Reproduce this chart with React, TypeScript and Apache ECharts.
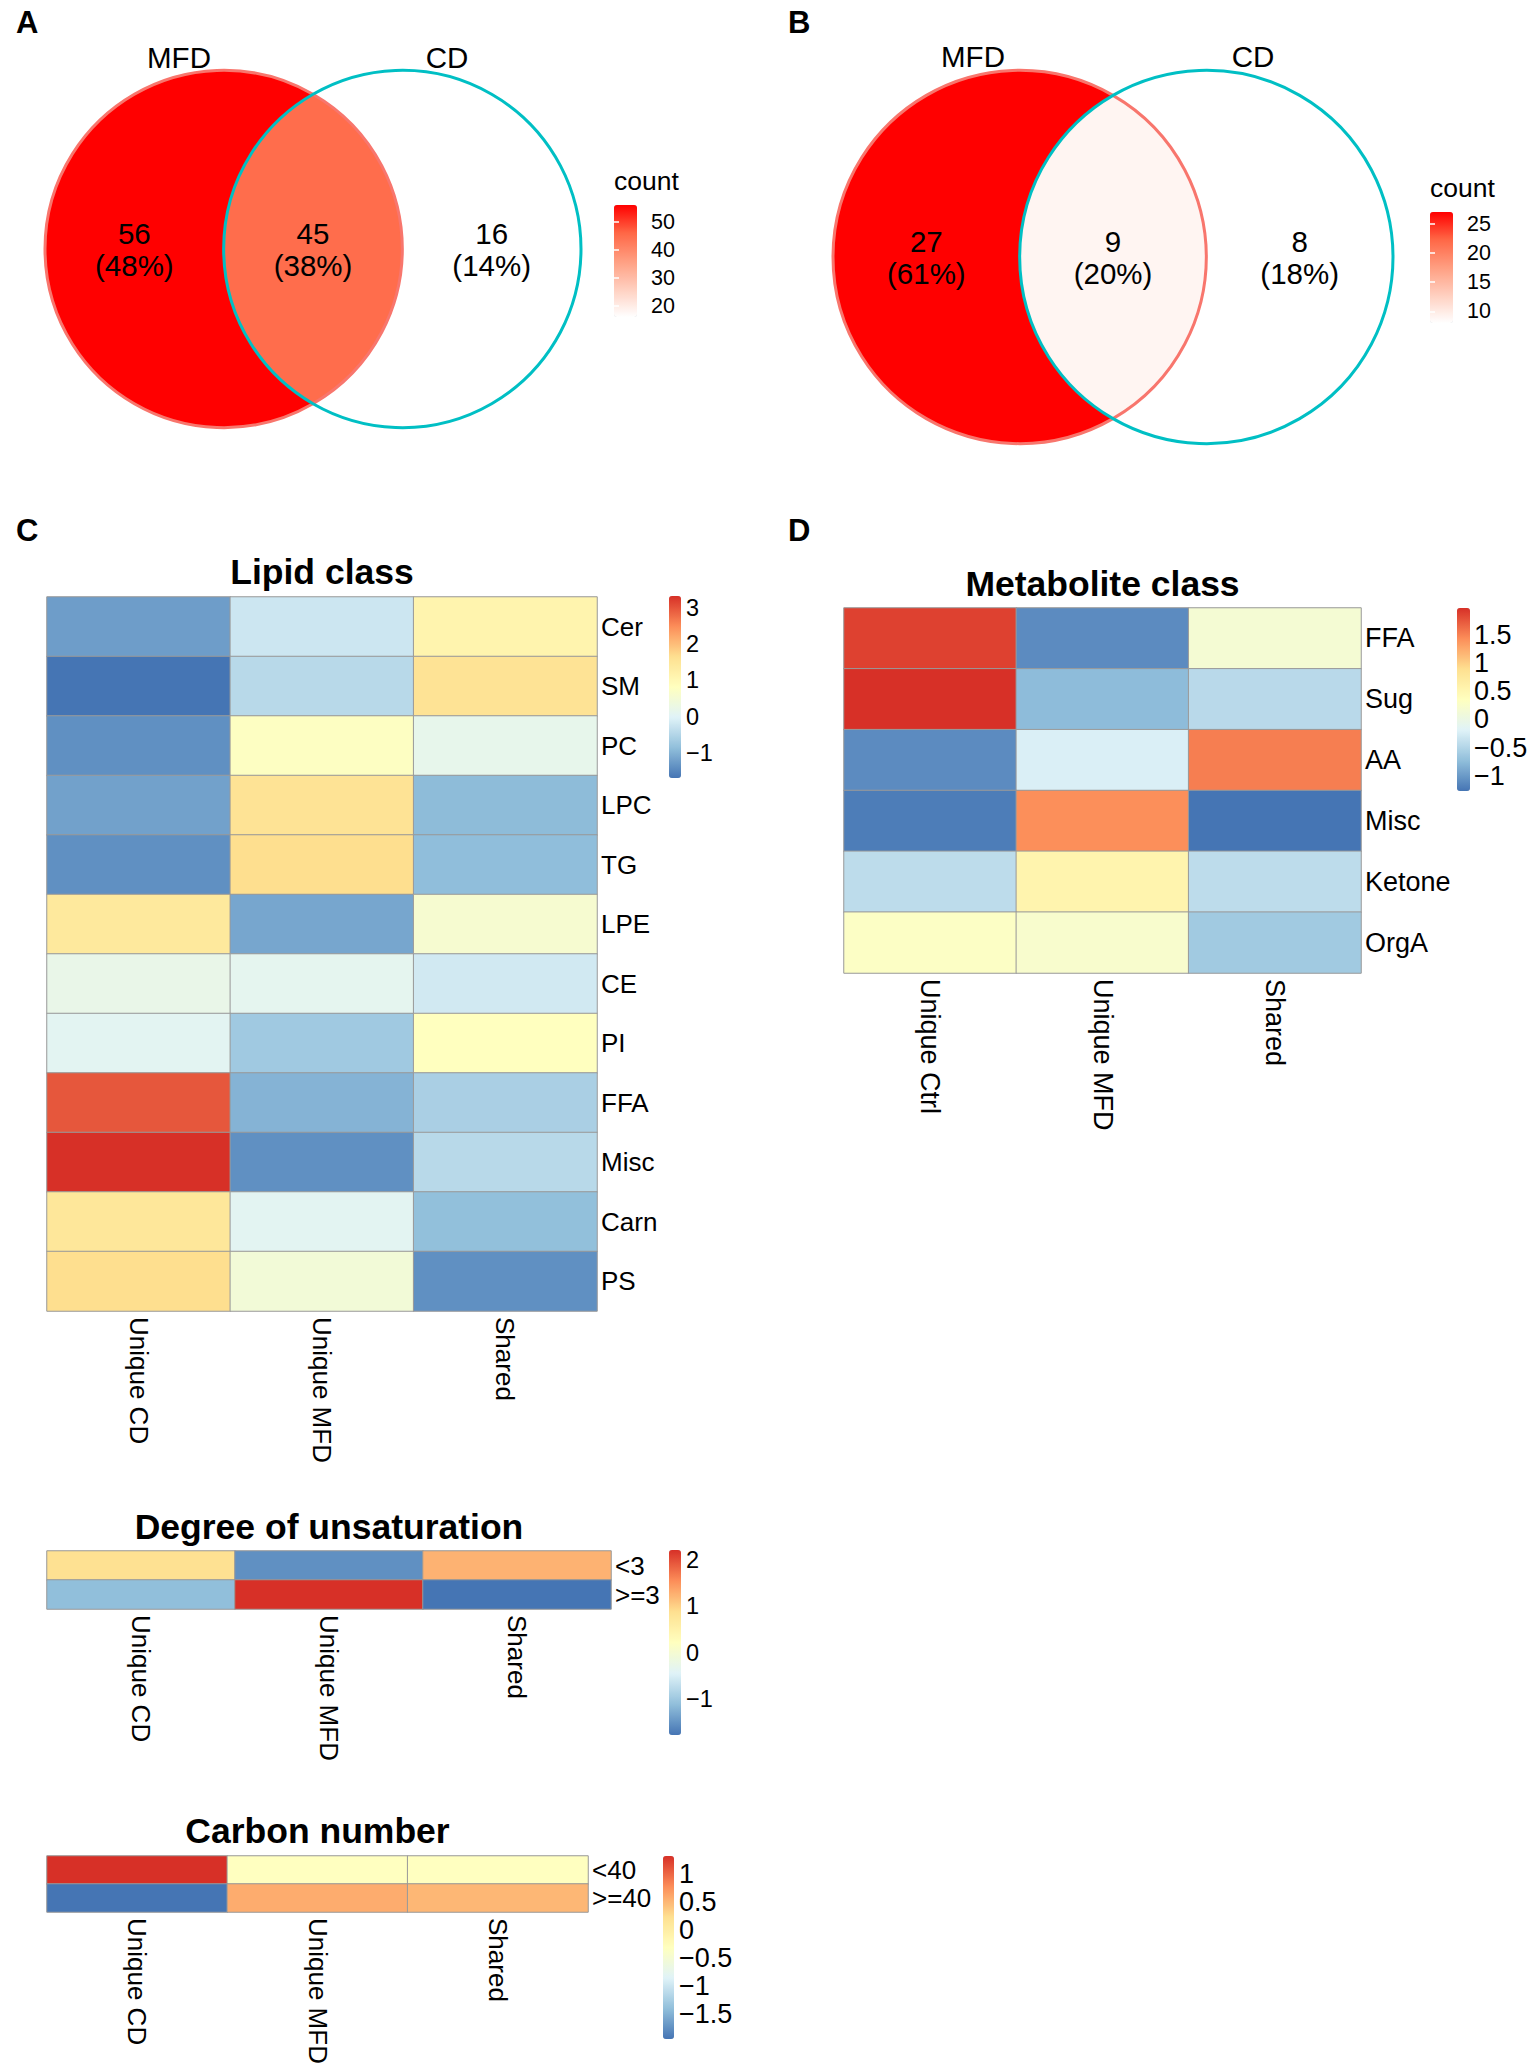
import React, { useEffect, useRef } from "react";
import * as echarts from "echarts";

const FONT = '"Liberation Sans", Arial, Helvetica, sans-serif';

// ---------- Venn A (lipids) ----------
const vennASets = ["MFD", "CD"];
const vennARegions = ["MFD only", "Shared", "CD only"];
const vennACounts = [56, 45, 16];
const vennATicks = [20, 30, 40, 50];

// ---------- Venn B (metabolites) ----------
const vennBSets = ["MFD", "CD"];
const vennBRegions = ["MFD only", "Shared", "CD only"];
const vennBCounts = [27, 9, 8];
const vennBTicks = [10, 15, 20, 25];

// ---------- C: Lipid class ----------
const lipidCols = ["Unique CD", "Unique MFD", "Shared"];
const lipidRows = ["Cer", "SM", "PC", "LPC", "TG", "LPE", "CE", "PI", "FFA", "Misc", "Carn", "PS"];
const lipidUniqueCD = [-1.24, -1.69, -1.39, -1.19, -1.39, 1.42, 0.22, 0.07, 2.98, 3.33, 1.47, 1.67];
const lipidUniqueMFD = [-0.23, -0.44, 0.77, 1.57, 1.67, -1.14, 0.12, -0.69, -0.99, -1.39, 0.07, 0.47];
const lipidShared = [1.12, 1.57, 0.17, -0.89, -0.86, 0.57, -0.18, 0.82, -0.59, -0.44, -0.84, -1.39];
const lipidTicks = [-1, 0, 1, 2, 3];

// ---------- D: Metabolite class ----------
const metCols = ["Unique Ctrl", "Unique MFD", "Shared"];
const metRows = ["FFA", "Sug", "AA", "Misc", "Ketone", "OrgA"];
const metUniqueCtrl = [1.87, 1.97, -1.11, -1.21, -0.43, 0.29];
const metUniqueMFD = [-1.11, -0.75, -0.23, 1.42, 0.54, 0.22];
const metShared = [0.16, -0.46, 1.52, -1.27, -0.43, -0.62];
const metTicks = [-1, -0.5, 0, 0.5, 1, 1.5];

// ---------- Degree of unsaturation ----------
const degCols = ["Unique CD", "Unique MFD", "Shared"];
const degRows = ["<3", ">=3"];
const degUniqueCD = [0.86, -1.11];
const degUniqueMFD = [-1.53, 2.21];
const degShared = [1.25, -1.77];
const degTicks = [-1, 0, 1, 2];

// ---------- Carbon number ----------
const carbCols = ["Unique CD", "Unique MFD", "Shared"];
const carbRows = ["<40", ">=40"];
const carbUniqueCD = [1.32, -1.95];
const carbUniqueMFD = [-0.32, 0.57];
const carbShared = [-0.32, 0.5];
const carbTicks = [-1.5, -1, -0.5, 0, 0.5, 1];

// palettes
const HEAT_PAL = ["#4575B4", "#91BFDB", "#E0F3F8", "#FFFFBF", "#FEE090", "#FC8D59", "#D73027"];
const VENN_PAL = ["#FFFFFF", "#FFCFBF", "#FF9E81", "#FF6746", "#FF0000"];
const VENN_EDGES = ["#F8766D", "#00BFC4"];
const VENN_R = 1;
const VENN_D = 1;

const minus = (v: number) => (v < 0 ? "\u2212" + String(Math.abs(v)) : String(v));

function makeVennRender(sets: string[], counts: number[]) {
  const total = counts.reduce((a, b) => a + b, 0);
  return (params: any, api: any) => {
    const i = params.dataIndex;
    const color = api.visual("color");
    const p0 = api.coord([0, 0]);
    const p1 = api.coord([VENN_D, 0]);
    const rp = api.coord([VENN_R, 0])[0] - p0[0];
    const pct = Math.round((counts[i] / total) * 100);
    const labelX = [-VENN_R / 2, VENN_D / 2, VENN_D + VENN_R / 2][i];
    const lp = api.coord([labelX, 0]);
    const font = {
      fontFamily: FONT,
      fontSize: 29.5,
      fill: "#000",
      align: "center",
      verticalAlign: "middle",
      lineHeight: 32,
    };
    const children: any[] = [];
    children.push({
      type: "text",
      x: lp[0],
      y: lp[1],
      z2: 10,
      style: { ...font, text: counts[i] + "\n(" + pct + "%)" },
    });
    if (i === 0 || i === 2) {
      const c = i === 0 ? p0 : p1;
      children.push({
        type: "circle",
        shape: { cx: c[0], cy: c[1], r: rp },
        z2: i === 0 ? 1 : 0,
        style: { fill: color },
      });
      children.push({
        type: "circle",
        shape: { cx: c[0], cy: c[1], r: rp },
        z2: i === 0 ? 3 : 4,
        style: { fill: "none", stroke: VENN_EDGES[i === 0 ? 0 : 1], lineWidth: 3 },
      });
      const sl = api.coord([i === 0 ? -VENN_R / 4 : VENN_D + VENN_R / 4, VENN_R * 1.07]);
      children.push({
        type: "text",
        x: sl[0],
        y: sl[1],
        z2: 10,
        style: { ...font, text: sets[i === 0 ? 0 : 1] },
      });
    } else {
      const th = Math.acos(VENN_D / 2 / VENN_R);
      const pts: number[][] = [];
      const N = 90;
      for (let k = 0; k <= N; k++) {
        const a = -th + (2 * th * k) / N;
        pts.push([p0[0] + rp * Math.cos(a), p0[1] + rp * Math.sin(a)]);
      }
      for (let k = 0; k <= N; k++) {
        const a = Math.PI - th + (2 * th * k) / N;
        pts.push([p1[0] + rp * Math.cos(a), p1[1] + rp * Math.sin(a)]);
      }
      children.push({ type: "polygon", shape: { points: pts }, z2: 2, style: { fill: color } });
    }
    return { type: "group", children };
  };
}

function buildOption() {
  const grids: any[] = [];
  const xAxes: any[] = [];
  const yAxes: any[] = [];
  const series: any[] = [];
  const visualMaps: any[] = [];
  const graphics: any[] = [];

  const addGrid = (g: any) => {
    grids.push({ left: g.left, top: g.top, width: g.width, height: g.height, containLabel: false });
    return grids.length - 1;
  };

  const addLegendAxis = (
    legend: any,
    mn: number,
    mx: number,
    ticks: number[],
    fontSize: number,
    margin: number,
    whiteTicks: boolean
  ) => {
    const lg = addGrid({ left: legend.left, top: legend.top, width: legend.w, height: legend.h });
    xAxes.push({ gridIndex: lg, type: "value", show: false });
    const tick = whiteTicks
      ? { show: true, inside: true, length: 5, lineStyle: { color: "#fff", width: 1.5 }, customValues: ticks }
      : { show: false };
    yAxes.push({
      gridIndex: lg,
      type: "value",
      min: mn,
      max: mx,
      position: "right",
      z: 10,
      axisLine: { show: false },
      splitLine: { show: false },
      axisTick: tick,
      axisLabel: {
        customValues: ticks,
        fontSize,
        color: "#000",
        fontFamily: FONT,
        margin,
        formatter: (v: number) => minus(v),
      },
    });
    if (whiteTicks) {
      yAxes.push({
        gridIndex: lg,
        type: "value",
        min: mn,
        max: mx,
        position: "left",
        z: 10,
        axisLine: { show: false },
        splitLine: { show: false },
        axisTick: tick,
        axisLabel: { show: false },
      });
    }
  };

  const addVenn = (sets: string[], counts: number[], ticks: number[], box: any, legend: any) => {
    const gi = addGrid(box);
    xAxes.push({ gridIndex: gi, type: "value", min: -1, max: 2, show: false });
    const xi = xAxes.length - 1;
    yAxes.push({ gridIndex: gi, type: "value", min: -1, max: 1, show: false });
    const yi = yAxes.length - 1;
    const si = series.length;
    series.push({
      type: "custom",
      xAxisIndex: xi,
      yAxisIndex: yi,
      renderItem: makeVennRender(sets, counts),
      data: counts.map((c, i) => [i, c]),
      silent: true,
      clip: false,
    });
    const mn = Math.min(...counts);
    const mx = Math.max(...counts);
    visualMaps.push({
      type: "continuous",
      seriesIndex: si,
      dimension: 1,
      min: mn,
      max: mx,
      calculable: false,
      hoverLink: false,
      inRange: { color: VENN_PAL },
      left: legend.left,
      top: legend.top,
      itemWidth: legend.w,
      itemHeight: legend.h,
      padding: 0,
    });
    addLegendAxis(legend, mn, mx, ticks, 21.5, 14, true);
    graphics.push({
      type: "text",
      x: legend.left,
      y: legend.top - 24,
      style: {
        text: "count",
        fontFamily: FONT,
        fontSize: 26.5,
        fill: "#000",
        align: "left",
        verticalAlign: "middle",
      },
    });
  };

  const addHeatmap = (
    title: string,
    cols: string[],
    rows: string[],
    colArrays: number[][],
    ticks: number[],
    box: any,
    legend: any,
    fontSize: number,
    legendFont: number,
    legendMargin: number,
    titleY: number
  ) => {
    const gi = addGrid(box);
    xAxes.push({
      gridIndex: gi,
      type: "category",
      data: cols,
      position: "bottom",
      axisLine: { show: false },
      axisTick: { show: false },
      splitLine: { show: false },
      axisLabel: { interval: 0, rotate: -90, fontSize, color: "#000", fontFamily: FONT, margin: 6 },
    });
    const xi = xAxes.length - 1;
    yAxes.push({
      gridIndex: gi,
      type: "category",
      data: rows,
      inverse: true,
      position: "right",
      axisLine: { show: false },
      axisTick: { show: false },
      splitLine: { show: false },
      axisLabel: { interval: 0, fontSize, color: "#000", fontFamily: FONT, margin: 4 },
    });
    const yi = yAxes.length - 1;
    const data: number[][] = [];
    const all: number[] = [];
    rows.forEach((_r, i) =>
      cols.forEach((_c, j) => {
        data.push([j, i, colArrays[j][i]]);
        all.push(colArrays[j][i]);
      })
    );
    const si = series.length;
    series.push({
      type: "heatmap",
      xAxisIndex: xi,
      yAxisIndex: yi,
      data,
      silent: true,
      itemStyle: { borderColor: "#999999", borderWidth: 1 },
      emphasis: { disabled: true },
    });
    const mn = Math.min(...all);
    const mx = Math.max(...all);
    visualMaps.push({
      type: "continuous",
      seriesIndex: si,
      dimension: 2,
      min: mn,
      max: mx,
      calculable: false,
      hoverLink: false,
      inRange: { color: HEAT_PAL },
      left: legend.left,
      top: legend.top,
      itemWidth: legend.w,
      itemHeight: legend.h,
      padding: 0,
    });
    addLegendAxis(legend, mn, mx, ticks, legendFont, legendMargin, false);
    graphics.push({
      type: "text",
      x: box.left + box.width / 2,
      y: titleY,
      style: {
        text: title,
        fontFamily: FONT,
        fontSize: 35.5,
        fontWeight: "bold",
        fill: "#000",
        align: "center",
        verticalAlign: "middle",
      },
    });
  };

  addVenn(vennASets, vennACounts, vennATicks, { left: 45, top: 70, width: 536, height: 358 }, { left: 614, top: 205, w: 23, h: 112 });
  addVenn(vennBSets, vennBCounts, vennBTicks, { left: 833, top: 70, width: 560, height: 374 }, { left: 1430, top: 212, w: 23, h: 111 });

  addHeatmap(
    "Lipid class",
    lipidCols,
    lipidRows,
    [lipidUniqueCD, lipidUniqueMFD, lipidShared],
    lipidTicks,
    { left: 47, top: 597, width: 550, height: 714 },
    { left: 669, top: 596, w: 12, h: 182 },
    26,
    23.5,
    5,
    572
  );
  addHeatmap(
    "Metabolite class",
    metCols,
    metRows,
    [metUniqueCtrl, metUniqueMFD, metShared],
    metTicks,
    { left: 844, top: 608, width: 517, height: 365 },
    { left: 1457, top: 608, w: 13, h: 183 },
    27,
    27,
    4,
    584
  );
  addHeatmap(
    "Degree of unsaturation",
    degCols,
    degRows,
    [degUniqueCD, degUniqueMFD, degShared],
    degTicks,
    { left: 47, top: 1551, width: 564, height: 58 },
    { left: 669, top: 1550, w: 12, h: 185 },
    26,
    23.5,
    5,
    1527
  );
  addHeatmap(
    "Carbon number",
    carbCols,
    carbRows,
    [carbUniqueCD, carbUniqueMFD, carbShared],
    carbTicks,
    { left: 47, top: 1856, width: 541, height: 56 },
    { left: 663, top: 1856, w: 11, h: 183 },
    26,
    27,
    5,
    1831
  );

  const letter = (t: string, x: number, y: number) => ({
    type: "text",
    x,
    y,
    style: {
      text: t,
      fontFamily: FONT,
      fontSize: 31,
      fontWeight: "bold",
      fill: "#000",
      align: "left",
      verticalAlign: "middle",
    },
  });
  graphics.push(letter("A", 16, 22), letter("B", 788, 22), letter("C", 16, 530), letter("D", 788, 530));

  return {
    animation: false,
    backgroundColor: "#ffffff",
    textStyle: { fontFamily: FONT },
    grid: grids,
    xAxis: xAxes,
    yAxis: yAxes,
    visualMap: visualMaps,
    series,
    graphic: graphics,
  };
}

export default function App() {
  const ref = useRef<HTMLDivElement>(null);
  useEffect(() => {
    if (!ref.current) return;
    const chart = echarts.init(ref.current, undefined, { renderer: "svg" });
    chart.setOption(buildOption() as any);
    return () => chart.dispose();
  }, []);
  return (
    <div
      ref={ref}
      style={{ position: "absolute", left: 0, top: 0, width: 1535, height: 2070, background: "#fff" }}
    />
  );
}
